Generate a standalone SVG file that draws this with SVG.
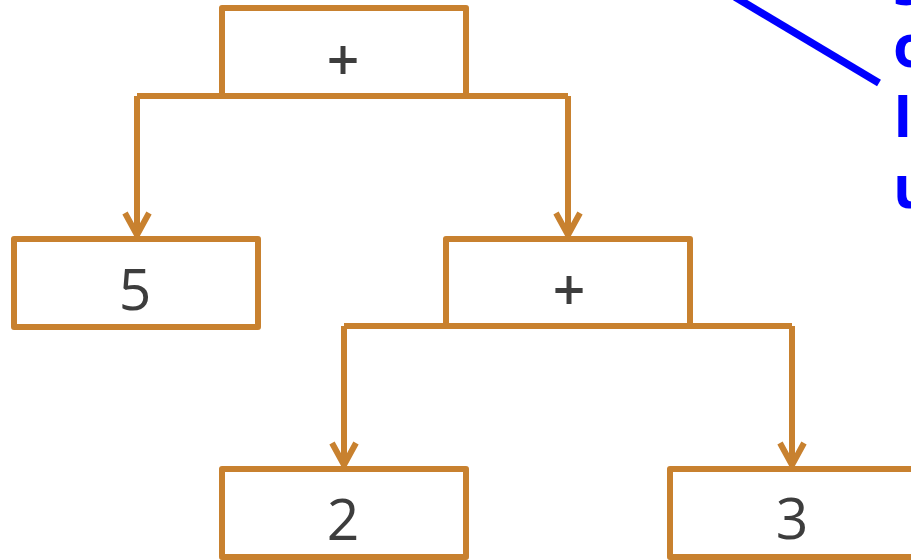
<svg xmlns="http://www.w3.org/2000/svg" width="911" height="560" viewBox="0 0 911 560">
  <style>
    .box { fill: #ffffff; stroke: #c8812f; stroke-width: 6; stroke-linejoin: round; }
    .lbl { font-family: "Open Sans", "Liberation Sans", sans-serif; font-size: 57px; fill: #3d3d3d; text-anchor: middle; }
    .op { font-weight: 600; }
    .wire { fill: none; stroke: #c8812f; stroke-width: 6; stroke-linejoin: round; stroke-linecap: butt; }
    .note { font-family: "Open Sans", "Liberation Sans", sans-serif; font-size: 59px; font-weight: bold; fill: #0000ff; }
  </style>
  <defs>
    <marker id="vee" markerUnits="userSpaceOnUse" markerWidth="40" markerHeight="40" viewBox="-20 -30 40 40" refX="0" refY="0" orient="auto-start-reverse" overflow="visible">
      <path d="M-22,-12 L0,0 L-22,12" fill="none" stroke="#c8812f" stroke-width="6" stroke-linejoin="miter"/>
    </marker>
  </defs>
  <rect width="911" height="560" fill="#ffffff"/>

  <!-- tree edges -->
  <g id="connectors">
    <path class="wire" d="M137,96 H568"/>
    <path class="wire" d="M137,96 V235" marker-end="url(#vee)"/>
    <path class="wire" d="M568,96 V235" marker-end="url(#vee)"/>
    <path class="wire" d="M344,326 H792"/>
    <path class="wire" d="M344,326 V465" marker-end="url(#vee)"/>
    <path class="wire" d="M792,326 V465" marker-end="url(#vee)"/>
  </g>

  <g id="node-root">
    <rect class="box" x="222" y="8" width="244" height="88"/>
    <text class="lbl op" x="343" y="81">+</text>
  </g>
  <g id="node-5">
    <rect class="box" x="14" y="239" width="244" height="88"/>
    <text class="lbl" x="135" y="310">5</text>
  </g>
  <g id="node-plus">
    <rect class="box" x="446" y="239" width="244" height="87"/>
    <text class="lbl op" x="569" y="311">+</text>
  </g>
  <g id="node-2">
    <rect class="box" x="222" y="469" width="244" height="88"/>
    <text class="lbl" x="343" y="540">2</text>
  </g>
  <g id="node-3">
    <rect class="box" x="670" y="469" width="244" height="88"/>
    <text class="lbl" x="792" y="539">3</text>
  </g>

  <!-- annotation callout -->
  <g id="callout">
    <line x1="735" y1="-3" x2="879" y2="83" stroke="#0000ff" stroke-width="7.5"/>
    <text class="note" x="893" y="5">s<tspan x="893" y="67">o</tspan><tspan x="893" y="137">I</tspan><tspan x="893" y="208">u</tspan></text>
  </g>
</svg>
